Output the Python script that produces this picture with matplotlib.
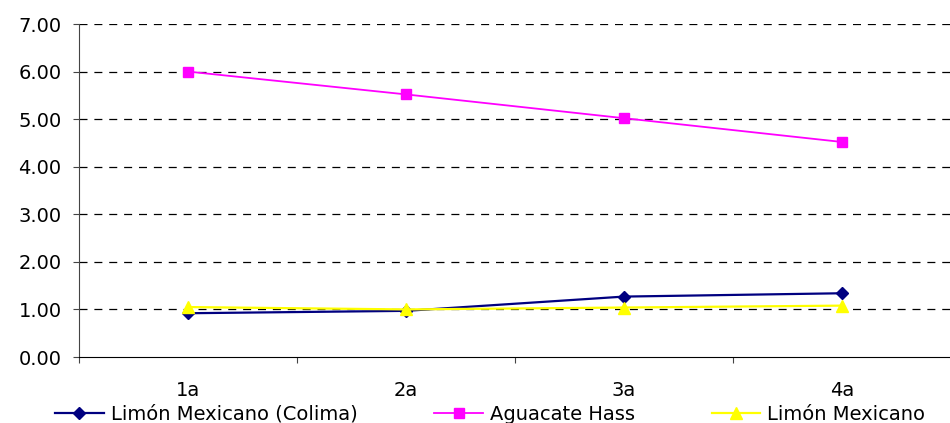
import numpy as np
import matplotlib.pyplot as plt

plt.rcParams['font.family'] = ['DejaVu Sans']

categories = ["1a", "2a", "3a", "4a"]
colima = [0.92, 0.97, 1.27, 1.34]
aguacate = [6.00, 5.52, 5.02, 4.52]
limon = [1.05, 1.00, 1.04, 1.08]

fig = plt.figure(figsize=(9.5, 4.23), dpi=100)
ax = fig.add_axes([79 / 950, 1 - 357 / 423, 872 / 950, 333 / 423])

x = np.arange(len(categories)) + 0.5
ax.plot(x, colima, color="#000080", marker="D", markersize=6.5, lw=1.6,
        label="Limón Mexicano (Colima)", zorder=3)
ax.plot(x, aguacate, color="#FF00FF", marker="s", markersize=6.5, lw=1.3,
        label="Aguacate Hass", zorder=3)
ax.plot(x, limon, color="#FFFF00", marker="^", markersize=9, lw=1.6,
        label="Limón Mexicano", zorder=3)

ax.set_xlim(0, 4)
ax.set_ylim(0, 7)
ax.set_yticks(np.arange(0, 8, 1))
ax.set_yticklabels(["{:.2f}".format(v) for v in range(8)], fontsize=14)
# lineas de division punteadas
for v in range(1, 8):
    ax.axhline(v, color="black", lw=0.9, ls=(0, (6.4, 5.5)), zorder=1)

ax.set_xticks(np.arange(0, 5, 1))
ax.set_xticklabels([])
ax.set_xticks(x, minor=True)
ax.set_xticklabels(categories, minor=True, fontsize=14)
ax.tick_params(axis="x", which="minor", length=0, pad=17)
ax.tick_params(axis="x", which="major", length=4.5, direction="out", color="#444444")
ax.tick_params(axis="y", length=4.5, direction="out", color="#444444", pad=8)

for s in ["top", "right"]:
    ax.spines[s].set_visible(False)
ax.spines["left"].set_color("#444444")
ax.spines["bottom"].set_color("black")

fig.legend(loc="center", bbox_to_anchor=(0.516, 9 / 423), ncol=3, frameon=False,
           fontsize=14, handlelength=2.5, columnspacing=3.95, handletextpad=0.36)

fig.savefig("out.png", dpi=100)
